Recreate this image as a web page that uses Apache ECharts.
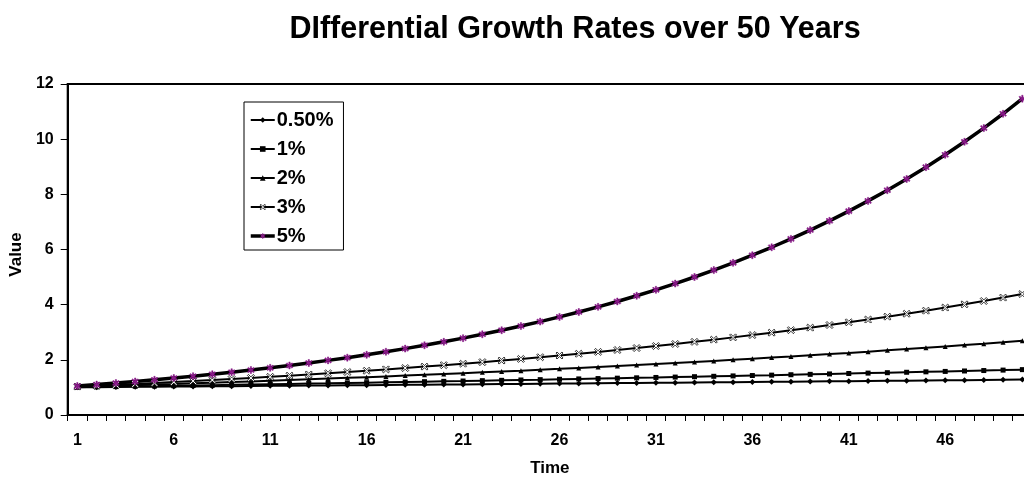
<!DOCTYPE html>
<html>
<head>
<meta charset="utf-8">
<script src="https://cdn.jsdelivr.net/npm/echarts@6/dist/echarts.min.js"></script>
<style>
  html, body { margin: 0; padding: 0; background: #fff; overflow: hidden; }
  /* the plot runs a few pixels past the right edge of the window */
  #chart { width: 1034px; height: 482px; }
</style>
</head>
<body>
<div id="chart"></div>
<script>
// Compound growth of 1 unit over 50 years at five rates
const years = Array.from({ length: 50 }, (_, i) => String(i + 1));

const rate050 = [1.005,1.010,1.015,1.020,1.025,1.030,1.036,1.041,1.046,1.051,
  1.056,1.062,1.067,1.072,1.078,1.083,1.088,1.094,1.099,1.105,
  1.110,1.116,1.122,1.127,1.133,1.138,1.144,1.150,1.156,1.161,
  1.167,1.173,1.179,1.185,1.191,1.197,1.203,1.209,1.215,1.221,
  1.227,1.233,1.239,1.245,1.252,1.258,1.264,1.270,1.277,1.283];

const rate1 = [1.010,1.020,1.030,1.041,1.051,1.062,1.072,1.083,1.094,1.105,
  1.116,1.127,1.138,1.149,1.161,1.173,1.184,1.196,1.208,1.220,
  1.232,1.245,1.257,1.270,1.282,1.295,1.308,1.321,1.335,1.348,
  1.361,1.375,1.389,1.403,1.417,1.431,1.445,1.460,1.474,1.489,
  1.504,1.519,1.534,1.549,1.565,1.580,1.596,1.612,1.628,1.645];

const rate2 = [1.020,1.040,1.061,1.082,1.104,1.126,1.149,1.172,1.195,1.219,
  1.243,1.268,1.294,1.319,1.346,1.373,1.400,1.428,1.457,1.486,
  1.516,1.546,1.577,1.608,1.641,1.673,1.707,1.741,1.776,1.811,
  1.848,1.885,1.922,1.961,2.000,2.040,2.081,2.122,2.165,2.208,
  2.252,2.297,2.343,2.390,2.438,2.487,2.536,2.587,2.639,2.692];

const rate3 = [1.030,1.061,1.093,1.126,1.159,1.194,1.230,1.267,1.305,1.344,
  1.384,1.426,1.469,1.513,1.558,1.605,1.653,1.702,1.754,1.806,
  1.860,1.916,1.974,2.033,2.094,2.157,2.221,2.288,2.357,2.427,
  2.500,2.575,2.652,2.732,2.814,2.898,2.985,3.075,3.167,3.262,
  3.360,3.461,3.565,3.671,3.782,3.895,4.012,4.132,4.256,4.384];

const rate5 = [1.050,1.103,1.158,1.216,1.276,1.340,1.407,1.477,1.551,1.629,
  1.710,1.796,1.886,1.980,2.079,2.183,2.292,2.407,2.527,2.653,
  2.786,2.925,3.072,3.225,3.386,3.556,3.733,3.920,4.116,4.322,
  4.538,4.765,5.003,5.253,5.516,5.792,6.081,6.385,6.705,7.040,
  7.392,7.762,8.150,8.557,8.985,9.434,9.906,10.401,10.921,11.467];

const yTicks = { min: 0, max: 12, step: 2 };

const FONT = '"Liberation Sans", Arial, sans-serif';

// marker shapes
const xMark = 'path://M0,1.5 L1.5,0 L5,3.5 L8.5,0 L10,1.5 L6.5,5 L10,8.5 L8.5,10 L5,6.5 L1.5,10 L0,8.5 L3.5,5 Z';
const starMark = 'path://M4,0 H6 V3.6 L8.6,1 L10,2.4 L7.4,5 L10,7.6 L8.6,9 L6,6.4 V10 H4 V6.4 L1.4,9 L0,7.6 L2.6,5 L0,2.4 L1.4,1 L4,3.6 Z';

function line(name, data, symbol, size, opts) {
  return Object.assign({
    name: name,
    type: 'line',
    data: data,
    symbol: symbol,
    symbolSize: size,
    showAllSymbol: true,
    lineStyle: { color: '#000', width: 2 },
    itemStyle: { color: '#000', borderColor: '#000', borderWidth: 0 },
    emphasis: { disabled: true },
    animation: false
  }, opts || {});
}

const chart = echarts.init(document.getElementById('chart'), null, { renderer: 'canvas' });

chart.setOption({
  backgroundColor: '#fff',
  animation: false,
  title: {
    text: 'DIfferential Growth Rates over 50 Years',
    left: 570,
    textAlign: 'center',
    top: 9,
    textStyle: { fontFamily: FONT, fontWeight: 'bold', fontSize: 30.5, color: '#000' }
  },
  legend: {
    orient: 'vertical',
    left: 244,
    top: 102,
    width: 102,
    itemWidth: 24,
    itemHeight: 7,
    itemGap: 9,
    padding: [8, 10, 4, 5],
    borderColor: '#000',
    borderWidth: 1,
    backgroundColor: '#fff',
    textStyle: { fontFamily: FONT, fontWeight: 'bold', fontSize: 20, color: '#000', padding: [0, 0, 0, -3] },
    data: [
      '0.50%', '1%', '2%',
      { name: '3%', itemStyle: { color: '#fff', borderColor: '#000', borderWidth: 0.7 } },
      {
        name: '5%',
        itemStyle: { color: '#8b1a8b', borderWidth: 0 },
        lineStyle: { color: '#000', width: 3.5 }
      }
    ]
  },
  grid: {
    left: 66,
    right: 2,
    top: 84,
    bottom: 63,
    show: true,
    borderColor: '#000',
    borderWidth: 2,
    containLabel: false
  },
  xAxis: {
    type: 'category',
    data: years,
    boundaryGap: true,
    name: 'Time',
    nameLocation: 'middle',
    nameGap: 45,
    nameTextStyle: { fontFamily: FONT, fontWeight: 'bold', fontSize: 17, color: '#000' },
    axisLine: { lineStyle: { color: '#000', width: 2 } },
    axisTick: { show: true, interval: 0, length: 6, lineStyle: { color: '#000', width: 1 } },
    axisLabel: { interval: 4, margin: 18, fontFamily: FONT, fontWeight: 'bold', fontSize: 16, color: '#000' },
    splitLine: { show: false }
  },
  yAxis: {
    type: 'value',
    min: yTicks.min,
    max: yTicks.max,
    interval: yTicks.step,
    name: 'Value',
    nameLocation: 'middle',
    nameGap: 40,
    nameRotate: 90,
    nameTextStyle: { fontFamily: FONT, fontWeight: 'bold', fontSize: 17, color: '#000', padding: [0, 10, 0, 0] },
    axisLine: { show: true, lineStyle: { color: '#000', width: 2 } },
    axisTick: { show: true, length: 7, lineStyle: { color: '#000', width: 1 } },
    axisLabel: { margin: 14, fontFamily: FONT, fontWeight: 'bold', fontSize: 16, color: '#000' },
    splitLine: { show: false }
  },
  series: [
    line('0.50%', rate050, 'diamond', 6),
    line('1%', rate1, 'rect', 5),
    line('2%', rate2, 'triangle', 5),
    line('3%', rate3, xMark, 7, {
      itemStyle: { color: '#fff', borderColor: '#000', borderWidth: 0.8 }
    }),
    line('5%', rate5, starMark, 7, {
      lineStyle: { color: '#000', width: 3.5 },
      itemStyle: { color: '#8b1a8b', borderColor: '#7a0a7a', borderWidth: 0.4 }
    })
  ]
});
</script>
</body>
</html>
